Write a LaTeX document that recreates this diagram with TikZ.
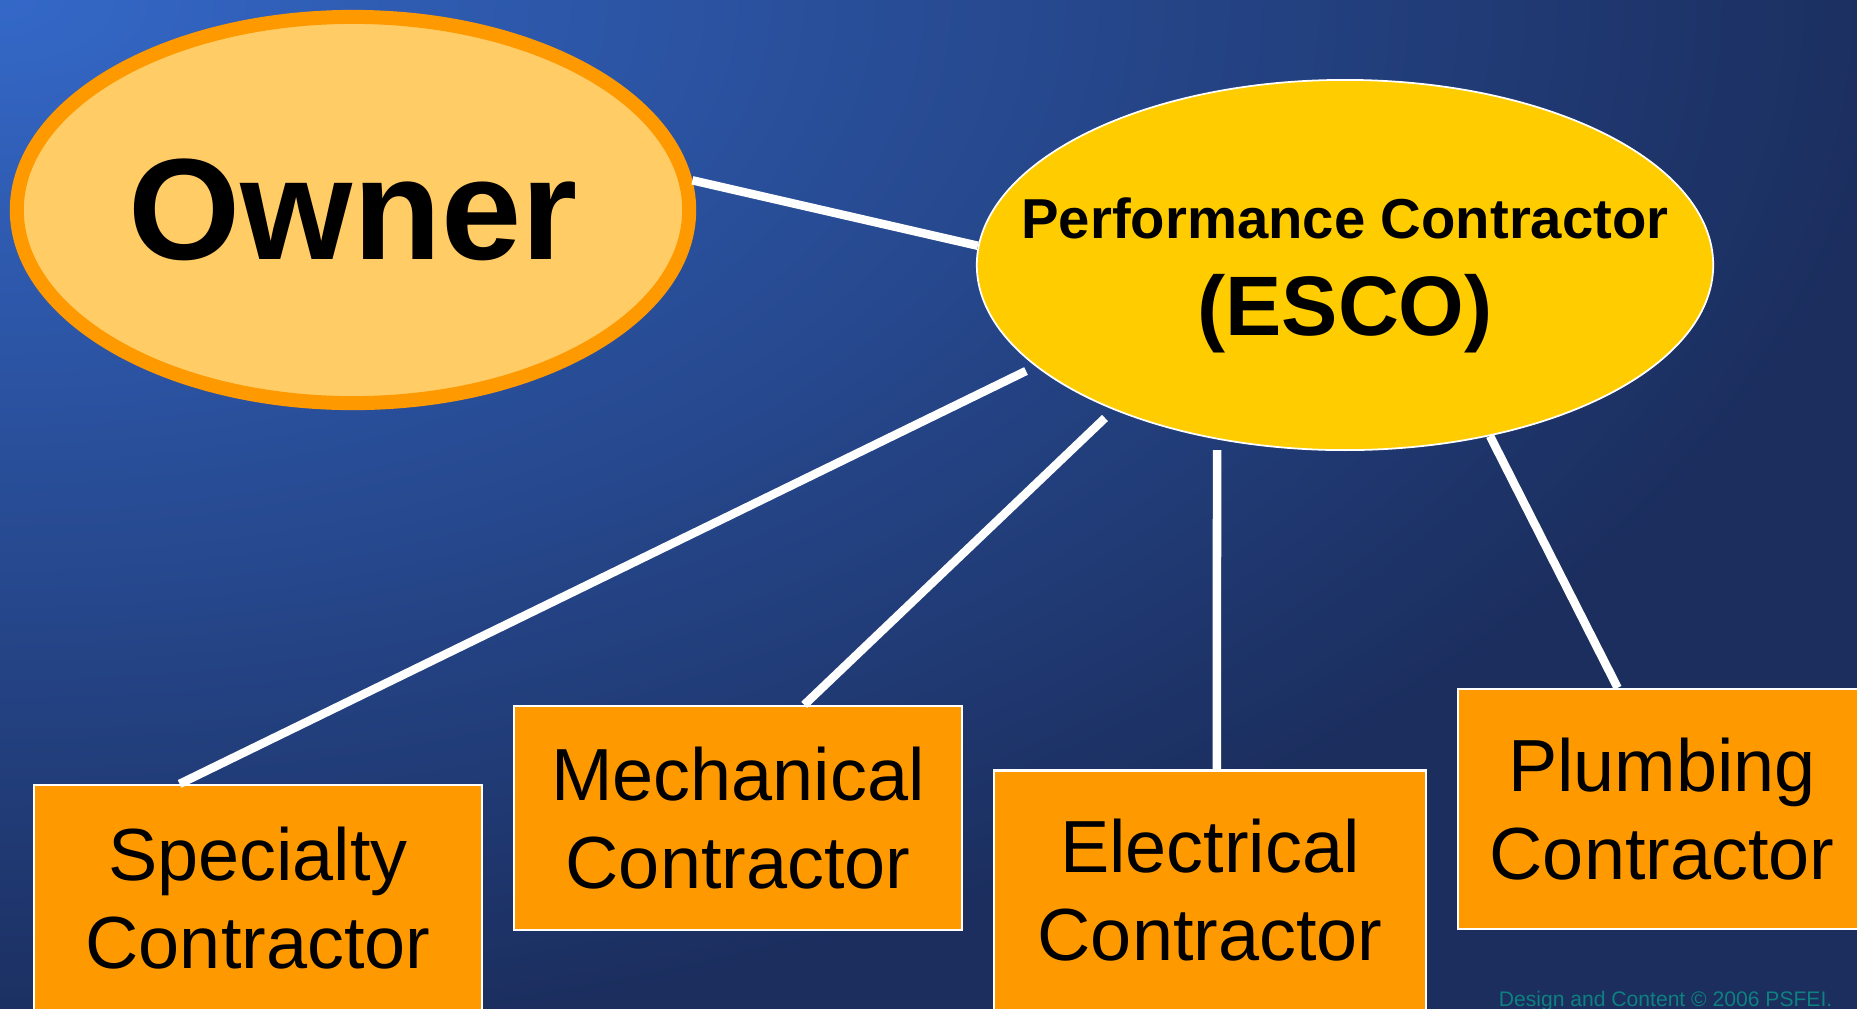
\documentclass[tikz,border=0pt]{standalone}
\usepackage{fontspec}
\setmainfont{Liberation Sans}
\usepackage{tikz}
\usetikzlibrary{positioning,calc,shapes.geometric,backgrounds}
\definecolor{slidelite}{HTML}{3468C8}
\definecolor{slidedark}{HTML}{1B2E5E}
\definecolor{ownerfill}{HTML}{FFCC66}
\definecolor{ownerline}{HTML}{FF9900}
\definecolor{escofill}{HTML}{FFCC00}
\definecolor{subfill}{HTML}{FF9900}
\definecolor{creditteal}{HTML}{0E8080}
\pgfdeclareradialshading{slideglow}{\pgfpoint{0bp}{0bp}}{color(0bp)=(slidelite); color(12.5bp)=(slidedark); color(50bp)=(slidedark)}

\begin{document}
\begin{tikzpicture}[x=0.01cm,y=-0.01cm,
  oval/.style={ellipse,inner sep=0pt,align=center,font=\bfseries},
  sub/.style={rectangle,draw=white,line width=0.6pt,fill=subfill,inner sep=0pt,align=center,font=\fontsize{21}{25}\selectfont},
  link/.style={draw=white,line width=0.085cm}]
  \useasboundingbox (0,0) rectangle (1857,1008);
  \begin{scope}[on background layer]
    \clip (0,0) rectangle (1857,1008);
    \fill[slidedark] (0,0) rectangle (1857,1008);
    \shade[shading=slideglow] (0,0) ellipse [x radius=38cm,y radius=21cm];
  \end{scope}
  \node[oval,draw=ownerline,line width=0.14cm,fill=ownerfill,minimum width=6.72cm,minimum height=3.86cm,font=\bfseries\fontsize{41}{49}\selectfont] (owner) at (353,210) {Owner};
  \node[oval,draw=white,line width=0.5pt,fill=escofill,inner xsep=-1cm,minimum width=7.36cm,minimum height=3.70cm] (esco) at (1345,265) {{\fontsize{16}{19}\selectfont\rule{0pt}{0.62cm}Performance Contractor}\\[9pt]{\fontsize{24}{28}\selectfont (ESCO)}};
  \node[sub,minimum width=4.48cm,minimum height=2.26cm] (spec) at (258,898) {Specialty\\Contractor};
  \node[sub,minimum width=4.48cm,minimum height=2.24cm] (mech) at (738,818) {Mechanical\\Contractor};
  \node[sub,minimum width=4.32cm,minimum height=2.39cm] (elec) at (1210,890) {Electrical\\Contractor};
  \node[sub,minimum width=4.08cm,minimum height=2.40cm] (plumb) at (1662,809) {Plumbing\\Contractor};
  \coordinate (eS) at (1026,371);
  \coordinate (eM) at (1105,418);
  \coordinate (eE) at (1217,450);
  \coordinate (eP) at (1490,436);
  \draw[link] (owner.5) -- (esco.177);
  \draw[link] (eS) -- ($(spec.north west)!0.326!(spec.north east)$);
  \draw[link] (eM) -- ($(mech.north west)!0.647!(mech.north east)$);
  \draw[link] (eE) -- ($(elec.north west)!0.516!(elec.north east)$);
  \draw[link] (eP) -- ($(plumb.north west)!0.392!(plumb.north east)$);
  \node[creditteal,font=\fontsize{6}{7}\selectfont,inner sep=0pt,anchor=base east] (credit) at (1833,1006) {Design and Content © 2006 PSFEI.};
\end{tikzpicture}
\end{document}
